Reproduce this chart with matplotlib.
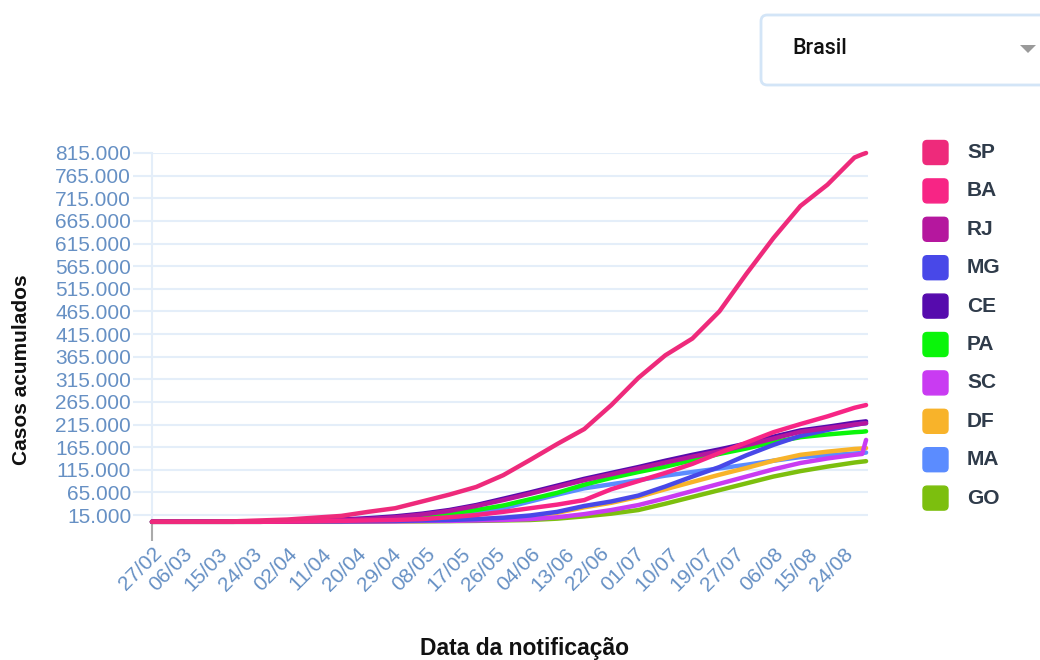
import matplotlib
matplotlib.use("Agg")
import matplotlib.pyplot as plt
import matplotlib.dates as mdates
from matplotlib.patches import FancyBboxPatch, Polygon
from matplotlib.ticker import FixedLocator, FuncFormatter
import pandas as pd

plt.rcParams['font.family'] = ['Liberation Sans', 'DejaVu Sans']

# ---------------- data (thousands of cases) ----------------
dates = ["27/02", "05/03", "12/03", "19/03", "26/03", "02/04", "09/04", "16/04",
         "23/04", "30/04", "07/05", "14/05", "21/05", "28/05", "04/06", "11/06",
         "18/06", "25/06", "02/07", "09/07", "16/07", "23/07", "30/07", "06/08",
         "13/08", "20/08", "27/08", "29/08", "30/08"]

states = ["SP", "BA", "RJ", "MG", "CE", "PA", "SC", "DF", "MA", "GO"]
colors = ["#EE2A7B", "#F72585", "#B5179E", "#4848E8", "#560BAD",
          "#0AF50A", "#C93BF2", "#F8B32A", "#5B8CFF", "#7CBF0E"]

SP = [0, 0, 0.1, 1, 3, 5, 9, 13, 22, 30, 45, 60, 77, 103, 137, 172, 205, 258,
      318, 368, 405, 465, 548, 627, 698, 745, 805, 812, 815]
BA = [0, 0, 0, 0, 0, 0.5, 1, 2, 3, 4, 6, 10, 15, 22, 30, 38, 48, 72, 90, 108,
      128, 152, 175, 198, 216, 233, 252, 256, 258]
RJ = [0, 0, 0, 0, 0.5, 1, 2, 4, 6, 10, 16, 24, 35, 48, 62, 77, 92, 105, 118,
      131, 144, 156, 169, 184, 199, 207, 215, 217, 218]
MG = [0, 0, 0, 0, 0, 0.5, 1, 1, 1.5, 2, 3, 4, 6, 9, 14, 22, 35, 45, 58, 78,
      100, 121, 147, 170, 190, 203, 214, 217, 218]
CE = [0, 0, 0, 0, 0.5, 1, 3, 5, 8, 12, 18, 26, 37, 51, 65, 80, 95, 108, 121,
      135, 148, 160, 173, 188, 202, 210, 219, 221, 222]
PA = [0, 0, 0, 0, 0, 0.5, 1, 2, 4, 7, 12, 18, 26, 36, 50, 64, 82, 97, 110,
      122, 136, 150, 162, 176, 187, 193, 198, 199, 200]
SC = [0, 0, 0, 0, 0, 0.5, 0.5, 1, 1, 1, 2, 2, 3, 4, 6, 10, 17, 26, 37, 52, 68,
      84, 100, 116, 130, 140, 148, 150, 181]
DF = [0, 0, 0, 0, 0, 0.5, 1, 1, 1, 2, 2, 3, 5, 8, 12, 20, 32, 42, 55, 72, 88,
      104, 119, 135, 148, 155, 161, 162, 163]
MA = [0, 0, 0, 0, 0, 0.5, 1, 2, 4, 7, 11, 16, 22, 30, 45, 60, 74, 83, 92, 102,
      110, 118, 126, 135, 143, 147, 151, 152, 153]
GO = [0, 0, 0, 0, 0, 0, 0, 0, 0.5, 1, 1, 1.5, 2, 3, 4, 7, 12, 18, 26, 40, 55,
      70, 85, 100, 112, 122, 131, 133, 134]

series = [SP, BA, RJ, MG, CE, PA, SC, DF, MA, GO]

tick_labels = ["27/02", "06/03", "15/03", "24/03", "02/04", "11/04", "20/04",
               "29/04", "08/05", "17/05", "26/05", "04/06", "13/06", "22/06",
               "01/07", "10/07", "19/07", "27/07", "06/08", "15/08", "24/08"]
y_ticks = [15000 + 50000 * i for i in range(17)]

# ---------------- figure ----------------
W, H = 1040, 660
fig = plt.figure(figsize=(W / 100, H / 100), dpi=100)
fig.patch.set_facecolor("white")

def fx(px):
    return px / W

def fy(py):
    return 1 - py / H

ax = fig.add_axes([fx(152), fy(521.8), fx(868) - fx(152), fy(153) - fy(521.8)])

x = pd.to_datetime([d + "/2020" for d in dates], format="%d/%m/%Y")
tick_x = pd.to_datetime([d + "/2020" for d in tick_labels], format="%d/%m/%Y")

n = len(states)
for i, (name, col, vals) in enumerate(zip(states, colors, series)):
    ax.plot(x, [v * 1000 for v in vals], color=col, lw=3.2,
            solid_capstyle="round", solid_joinstyle="round",
            zorder=10 + (n - i), clip_on=False)

ax.set_xlim(pd.Timestamp("2020-02-27"), pd.Timestamp("2020-02-27") + pd.Timedelta(days=185.5))
ax.set_ylim(0, 815000)

ax.yaxis.set_major_locator(FixedLocator(y_ticks))
ax.yaxis.set_major_formatter(FuncFormatter(lambda v, p: f"{int(round(v)):,}".replace(",", ".")))
ax.xaxis.set_major_locator(FixedLocator(mdates.date2num(tick_x)))
ax.set_xticklabels(tick_labels)

tick_col = "#6690C4"
grid_col = "#E4EEF9"
ax.grid(axis="y", color=grid_col, lw=1.5)
ax.grid(axis="x", visible=False)
for s in ["top", "right", "bottom"]:
    ax.spines[s].set_visible(False)
ax.spines["left"].set_color(grid_col)
ax.spines["left"].set_linewidth(1.5)

ax.tick_params(axis="y", colors=grid_col, labelcolor=tick_col, labelsize=15,
               length=14, width=1.5, pad=1)
ax.tick_params(axis="x", colors="#AAAAAA", labelcolor=tick_col, labelsize=15,
               length=14, width=1.5, pad=2)
for lab in ax.get_xticklabels():
    lab.set_rotation(45)
    lab.set_ha("right")
    lab.set_va("top")
    lab.set_rotation_mode("anchor")
for i, t in enumerate(ax.xaxis.get_major_ticks()):
    if i > 0:
        t.tick1line.set_visible(False)

fig.text(fx(22), fy(370), "Casos acumulados", rotation=90, fontsize=15,
         fontweight="bold", color="#111111", ha="center", va="center")
fig.text(fx(525), fy(648), "Data da notificação", fontsize=16.5,
         fontweight="bold", color="#111111", ha="center", va="center")

# ---------------- legend ----------------
for i, (name, col) in enumerate(zip(states, colors)):
    cy = 152.5 + i * 38.4
    box = FancyBboxPatch((fx(923), fy(cy + 12)), fx(948) - fx(923), fy(cy - 12) - fy(cy + 12),
                         boxstyle="round,pad=0,rounding_size=0.004",
                         transform=fig.transFigure, facecolor=col,
                         edgecolor=col, lw=1, mutation_aspect=W / H)
    fig.patches.append(box)
    fig.text(fx(967), fy(cy), name, fontsize=15, fontweight="bold",
             color="#2F3B4A", ha="left", va="center")

# ---------------- dropdown ----------------
dd = FancyBboxPatch((fx(761), fy(85)), fx(1060) - fx(761), fy(15) - fy(85),
                    boxstyle="round,pad=0,rounding_size=0.006",
                    transform=fig.transFigure, facecolor="white",
                    edgecolor="#D3E5F7", lw=2, mutation_aspect=W / H)
fig.patches.append(dd)
fig.text(fx(792), fy(48), "Brasil", fontsize=15.5, color="#111111",
         family=["Roboto", "DejaVu Sans"], fontweight="medium", ha="left", va="center")
tri = Polygon([[fx(1020), fy(45)], [fx(1036), fy(45)], [fx(1028), fy(53)]],
              closed=True, transform=fig.transFigure, facecolor="#9A9A9A",
              edgecolor="none")
fig.patches.append(tri)

fig.savefig("out.png", dpi=100, facecolor="white")
